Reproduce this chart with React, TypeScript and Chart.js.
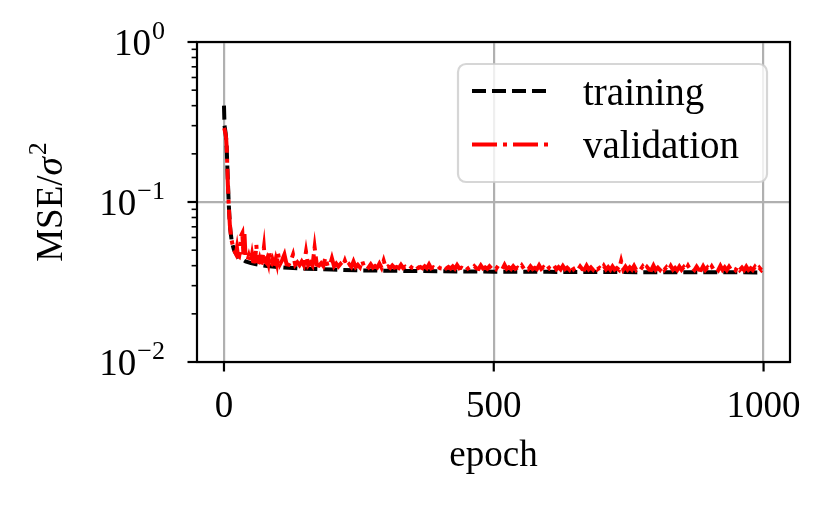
import React, { useEffect, useRef } from "react";
import { Chart, registerables } from "chart.js";

Chart.register(...registerables);

// ---- data ----
const trainEpochs = [0, 1, 2, 3, 4, 5, 6, 7, 8, 9, 10, 11, 12, 13, 14, 15, 16, 18, 20, 25, 30, 40, 50, 60, 70, 80, 100, 120, 150, 200, 250, 300, 400, 500, 600, 700, 800, 900, 999];
const trainLoss = [0.40, 0.30, 0.285, 0.27, 0.25, 0.22, 0.175, 0.14, 0.115, 0.095, 0.082, 0.072, 0.066, 0.062, 0.058, 0.056, 0.054, 0.051, 0.049, 0.046, 0.0445, 0.0425, 0.0415, 0.0408, 0.0402, 0.0398, 0.0392, 0.0388, 0.0383, 0.0378, 0.0374, 0.0372, 0.0369, 0.0367, 0.0366, 0.0365, 0.0364, 0.0364, 0.0363];

const valEpochs = [
  0, 1, 2, 3, 4, 5, 6, 7, 8, 9, 10, 11, 12, 13, 14, 15, 16, 17, 18, 19, 20,
  22, 24, 26, 28, 30, 32, 34, 36, 38, 40, 42, 44, 46, 48, 50, 52, 54, 56, 58, 60,
  62, 64, 66, 68, 70, 72, 74, 76, 78, 80, 82, 84, 86, 88, 90, 92, 94, 96, 98, 100,
  104, 108, 112, 116, 120, 124, 128, 132, 136, 140, 144, 148, 152, 156, 160, 164, 168, 172, 176, 180,
  184, 188, 192, 196, 200, 204, 208, 212, 216, 220, 224, 228, 232, 236, 240, 244, 248, 252, 256, 260,
  264, 268, 272, 276, 280, 284, 288, 292, 296,
  300, 304, 308, 312, 316, 320, 324, 328, 332, 336,
  340, 344, 348, 352, 356, 360, 364, 368, 372, 376,
  380, 384, 388, 392, 396, 400, 404, 408, 412, 416,
  420, 424, 428, 432, 436, 440, 444, 448, 452, 456,
  460, 464, 468, 472, 476, 480, 484, 488, 492, 496,
  500, 504, 508, 512, 516, 520, 524, 528, 532, 536,
  540, 544, 548, 552, 556, 560, 564, 568, 572, 576,
  580, 584, 588, 592, 596, 600, 604, 608, 612, 616,
  620, 624, 628, 632, 636, 640, 644, 648, 652, 656,
  660, 664, 668, 672, 676, 680, 684, 688, 692, 696,
  700, 704, 708, 712, 716, 720, 724, 728, 732, 736,
  740, 744, 748, 752, 756, 760, 764, 768, 772, 776,
  780, 784, 788, 792, 796, 800, 804, 808, 812, 816,
  820, 824, 828, 832, 836, 840, 844, 848, 852, 856,
  860, 864, 868, 872, 876, 880, 884, 888, 892, 896,
  900, 904, 908, 912, 916, 920, 924, 928, 932, 936,
  940, 944, 948, 952, 956, 960, 964, 968, 972, 976,
  980, 984, 988, 992, 996, 999,
];
const valLoss = [
  0.29, 0.285, 0.275, 0.265, 0.25, 0.22, 0.175, 0.135, 0.11, 0.093, 0.081, 0.071, 0.066, 0.061, 0.058, 0.056, 0.054, 0.053, 0.051, 0.050, 0.049,
  0.0475, 0.052, 0.046, 0.0455, 0.050, 0.062, 0.064, 0.047, 0.063, 0.045, 0.044, 0.0435, 0.046, 0.0432, 0.0428, 0.047, 0.0426, 0.0425, 0.0445, 0.054,
  0.0425, 0.0422, 0.0445, 0.042, 0.0418, 0.046, 0.052, 0.0425, 0.0418, 0.044, 0.0415, 0.050, 0.0418, 0.0412, 0.0435, 0.0412, 0.041, 0.044, 0.0412, 0.048,
  0.041, 0.0435, 0.047, 0.0408, 0.0405, 0.043, 0.047, 0.0405, 0.042, 0.0403, 0.0425, 0.0402, 0.049, 0.0402, 0.0418, 0.040, 0.052, 0.0405, 0.040, 0.0415,
  0.0398, 0.045, 0.040, 0.0398, 0.0445, 0.0396, 0.0412, 0.0395, 0.041, 0.0395, 0.043, 0.0394, 0.0408, 0.0393, 0.0425, 0.0392, 0.0405, 0.0391, 0.043, 0.0391,
  0.0402, 0.039, 0.0408, 0.0389, 0.0398, 0.0389, 0.0412, 0.0388, 0.043,
  0.0388, 0.0396, 0.0387, 0.0401, 0.0389, 0.0393, 0.0386, 0.0405, 0.0387, 0.0394,
  0.0386, 0.0399, 0.0388, 0.0385, 0.0403, 0.0387, 0.0392, 0.0385, 0.0397, 0.0386,
  0.0408, 0.0385, 0.0391, 0.0384, 0.0398, 0.0386, 0.0384, 0.0401, 0.0385, 0.0393,
  0.0384, 0.0396, 0.0383, 0.0404, 0.0385, 0.0389, 0.0383, 0.0399, 0.0384, 0.0392,
  0.0383, 0.0397, 0.0385, 0.0382, 0.0402, 0.0384, 0.039, 0.0382, 0.0396, 0.0383,
  0.0393, 0.0381, 0.0399, 0.0383, 0.0381, 0.0405, 0.0382, 0.0391, 0.0381, 0.0397,
  0.0382, 0.0389, 0.038, 0.0401, 0.0382, 0.0393, 0.038, 0.0396, 0.0381, 0.0388,
  0.038, 0.0402, 0.0381, 0.0391, 0.0379, 0.0397, 0.0381, 0.0379, 0.0399, 0.038,
  0.0392, 0.0379, 0.0398, 0.038, 0.0389, 0.0378, 0.0403, 0.038, 0.0392, 0.0378,
  0.0396, 0.038, 0.0378, 0.04, 0.0379, 0.039, 0.0377, 0.0397, 0.0379, 0.0388,
  0.0377, 0.0399, 0.0379, 0.0392, 0.0377, 0.0396, 0.0378, 0.0387, 0.0377, 0.0428,
  0.0378, 0.0395, 0.0377, 0.0391, 0.0378, 0.0399, 0.0376, 0.0388, 0.0378, 0.0396,
  0.0376, 0.0392, 0.0378, 0.0376, 0.0401, 0.0377, 0.0389, 0.0376, 0.0397, 0.0377,
  0.0391, 0.0375, 0.0398, 0.0377, 0.0388, 0.0375, 0.0395, 0.0377, 0.0392, 0.0375,
  0.0399, 0.0377, 0.0387, 0.0375, 0.0394, 0.0377, 0.0375, 0.0397, 0.0376, 0.039,
  0.0375, 0.0396, 0.0376, 0.0388, 0.0375, 0.0399, 0.0376, 0.0391, 0.0375, 0.0394,
  0.0376, 0.0387, 0.0375, 0.0397, 0.0376, 0.0389, 0.0375, 0.0395, 0.0376, 0.0386,
  0.0375, 0.0393, 0.0376, 0.0389, 0.0375, 0.0386,
];

const seriesLabels = ["training", "validation"];
const xTickValues = [0, 500, 1000];
const yMajorTicks = [0.01, 0.1, 1];
const yTickBases = ["10", "10", "10"];
const yTickExponents = ["\u22122", "\u22121", "0"];
const yMinorMultipliers = [2, 3, 4, 5, 6, 7, 8, 9];
const xTitle = "epoch";
const yTitleParts = ["MSE/", "\u03C3", "2"]; // MSE/σ^2

const FONT = "'Liberation Serif', 'Times New Roman', 'DejaVu Serif', serif";
const GRID = "#b0b0b0";
const LW = 4;
const trainDash = [14, 6];
const valDash = [25, 6, 4, 6];

const isMajorY = (v: number) => yMajorTicks.some((m) => Math.abs(m - v) / m < 1e-6);

const framePlugin = {
  id: "frameTicks",
  afterDatasetsDraw(chart: any) {
    const { ctx, chartArea: a, scales } = chart;
    ctx.save();
    ctx.strokeStyle = "#000";
    ctx.setLineDash([]);
    ctx.lineWidth = 2.2;
    for (const v of xTickValues) {
      const px = scales.x.getPixelForValue(v);
      ctx.beginPath();
      ctx.moveTo(px, a.bottom);
      ctx.lineTo(px, a.bottom + 9.5);
      ctx.stroke();
    }
    for (const t of scales.y.ticks) {
      const py = scales.y.getPixelForValue(t.value);
      const major = isMajorY(t.value);
      ctx.lineWidth = major ? 2.2 : 1.6;
      ctx.beginPath();
      ctx.moveTo(a.left, py);
      ctx.lineTo(a.left - (major ? 9.5 : 5.4), py);
      ctx.stroke();
    }
    ctx.lineWidth = 2.2;
    ctx.strokeRect(a.left, a.top, a.right - a.left, a.bottom - a.top);

    // y tick labels: 10 with superscript exponent
    ctx.fillStyle = "#000";
    ctx.textBaseline = "alphabetic";
    ctx.textAlign = "left";
    yMajorTicks.forEach((m, i) => {
      const py = scales.y.getPixelForValue(m);
      ctx.font = `37px ${FONT}`;
      const wb = ctx.measureText(yTickBases[i]).width;
      ctx.font = `26px ${FONT}`;
      const we = ctx.measureText(yTickExponents[i]).width;
      const right = a.left - 32;
      const x0 = right - we - wb - 1;
      ctx.font = `37px ${FONT}`;
      ctx.fillText(yTickBases[i], x0, py + 13);
      ctx.font = `26px ${FONT}`;
      ctx.fillText(yTickExponents[i], x0 + wb + 1, py - 3);
    });

    // y axis title, rotated
    ctx.save();
    const cy = (a.top + a.bottom) / 2;
    ctx.translate(62, cy);
    ctx.rotate(-Math.PI / 2);
    const f0 = `37px ${FONT}`;
    const f1 = `italic 37px ${FONT}`;
    const f2 = `26px ${FONT}`;
    ctx.font = f0;
    const w0 = ctx.measureText(yTitleParts[0]).width;
    ctx.font = f1;
    const w1 = ctx.measureText(yTitleParts[1]).width;
    ctx.font = f2;
    const w2 = ctx.measureText(yTitleParts[2]).width;
    let x = -(w0 + w1 + w2 + 2) / 2;
    ctx.font = f0;
    ctx.fillText(yTitleParts[0], x, 0);
    x += w0;
    ctx.font = f1;
    ctx.fillText(yTitleParts[1], x, 0);
    x += w1 + 2;
    ctx.font = f2;
    ctx.fillText(yTitleParts[2], x, -16);
    ctx.restore();
    ctx.restore();
  },
};

const legendPlugin = {
  id: "mplLegend",
  afterDraw(chart: any) {
    const { ctx, chartArea: a } = chart;
    const ds = chart.data.datasets;
    const bx = a.right - 332;
    const by = a.top + 22;
    const bw = 309;
    const bh = 118;
    ctx.save();
    ctx.beginPath();
    (ctx as any).roundRect(bx, by, bw, bh, 8);
    ctx.fillStyle = "rgba(255,255,255,0.8)";
    ctx.fill();
    ctx.lineWidth = 2.2;
    ctx.strokeStyle = "rgba(204,204,204,0.8)";
    ctx.stroke();
    const rows = [49, 102.5];
    ds.forEach((d: any, i: number) => {
      const ly = a.top + rows[i];
      ctx.beginPath();
      ctx.setLineDash(d.borderDash || []);
      ctx.lineWidth = d.borderWidth;
      ctx.strokeStyle = d.borderColor;
      ctx.lineCap = "butt";
      ctx.moveTo(bx + 14, ly);
      ctx.lineTo(bx + 91, ly);
      ctx.stroke();
      ctx.setLineDash([]);
      ctx.fillStyle = "#000";
      ctx.font = `39px ${FONT}`;
      ctx.textBaseline = "alphabetic";
      ctx.textAlign = "left";
      ctx.fillText(d.label, bx + 125, ly + 13.5);
    });
    ctx.restore();
  },
};

export default function App() {
  const ref = useRef<HTMLCanvasElement | null>(null);
  useEffect(() => {
    if (!ref.current) return;
    const font = { family: FONT, size: 37 };
    const chart = new Chart(ref.current, {
      type: "line",
      data: {
        datasets: [
          {
            label: seriesLabels[0],
            data: trainEpochs.map((e, i) => ({ x: e, y: trainLoss[i] })),
            borderColor: "#000000",
            borderDash: trainDash,
            borderWidth: LW,
            pointRadius: 0,
            tension: 0,
            fill: false,
            order: 2,
          },
          {
            label: seriesLabels[1],
            data: valEpochs.map((e, i) => ({ x: e, y: valLoss[i] })),
            borderColor: "#ff0000",
            borderDash: valDash,
            borderWidth: LW,
            pointRadius: 0,
            tension: 0,
            fill: false,
            order: 1,
          },
        ],
      },
      options: {
        animation: false,
        responsive: true,
        maintainAspectRatio: false,
        layout: { padding: { left: 0, right: 39, top: 42, bottom: 0 } },
        plugins: { legend: { display: false }, tooltip: { enabled: false } },
        events: [],
        scales: {
          x: {
            type: "linear",
            min: -50,
            max: 1049,
            afterBuildTicks: (s: any) => {
              s.ticks = xTickValues.map((v) => ({ value: v }));
            },
            afterFit: (s: any) => {
              s.height = 143;
            },
            ticks: {
              font,
              color: "#000",
              padding: 23,
              autoSkip: false,
              maxRotation: 0,
              callback: (v: any) => String(v),
            },
            grid: { color: GRID, lineWidth: 2.2, drawTicks: false },
            border: { display: false },
            title: { display: true, text: xTitle, font, color: "#000", padding: { top: 0, bottom: 27 } },
          },
          y: {
            type: "logarithmic",
            min: 0.01,
            max: 1,
            afterBuildTicks: (s: any) => {
              const t: any[] = [];
              yMajorTicks.forEach((m, i) => {
                t.push({ value: m, major: true });
                if (i < yMajorTicks.length - 1) yMinorMultipliers.forEach((k) => t.push({ value: m * k, major: false }));
              });
              s.ticks = t;
            },
            afterFit: (s: any) => {
              s.width = 197;
            },
            ticks: {
              display: false,
              autoSkip: false,
            },
            grid: {
              color: (c: any) => (c.tick && isMajorY(c.tick.value) ? GRID : "rgba(0,0,0,0)"),
              lineWidth: 2.2,
              drawTicks: false,
            },
            border: { display: false },
          },
        },
      },
      plugins: [framePlugin, legendPlugin],
    });
    return () => chart.destroy();
  }, []);
  return (
    <div style={{ position: "absolute", left: 0, top: 0, width: 829, height: 505, background: "#fff" }}>
      <canvas ref={ref} />
    </div>
  );
}
